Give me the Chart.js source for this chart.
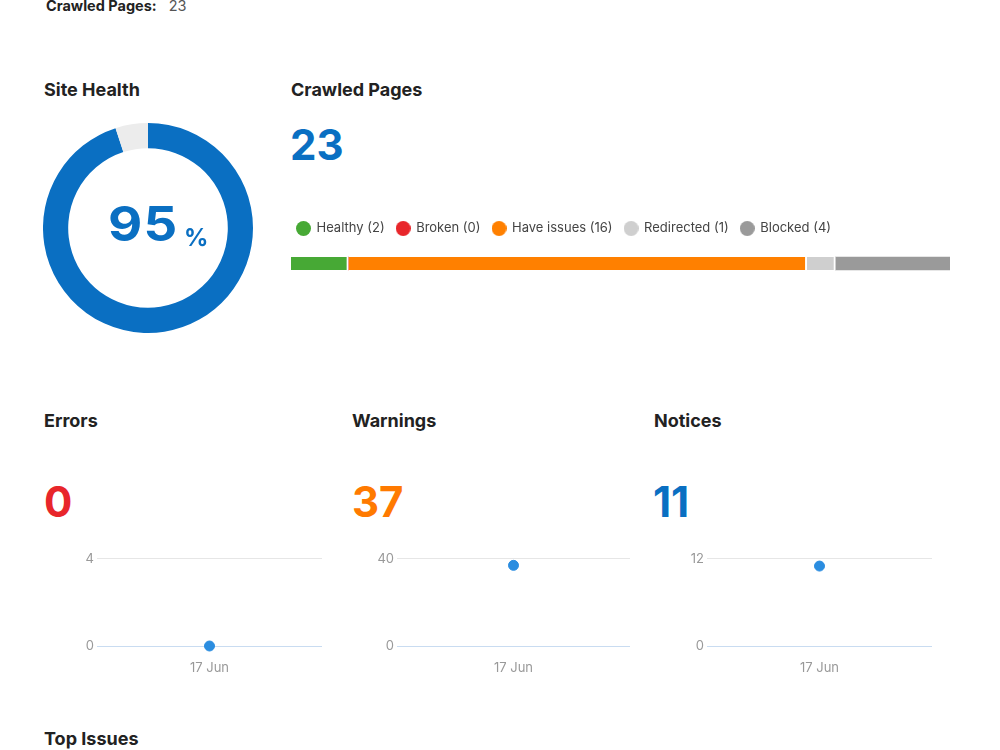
<!DOCTYPE html>
<html>
<head>
<meta charset="utf-8">
<script src="https://cdn.jsdelivr.net/npm/chart.js@4.4.1/dist/chart.umd.min.js"></script>
<style>
  body { margin: 0; background: #fff; font-family: Inter, "Open Sans", sans-serif; color: #222; }
  #page { position: relative; width: 1000px; height: 750px; overflow: hidden; }
  .abs { position: absolute; }
  .titulo { font-size: 18px; font-weight: 700; color: #222; white-space: nowrap; }
  .numero { font-size: 42px; font-weight: 700; line-height: 1; }
  canvas { display: block; }
</style>
</head>
<body>
<div id="page">
  <div class="abs" style="left:46px; top:-3px; font-size:14.5px; white-space:nowrap;">
    <b>Crawled Pages:</b><span style="color:#555; margin-left:12px;">23</span>
  </div>

  <div class="abs titulo" style="left:44px; top:79px;">Site Health</div>
  <div class="abs" style="left:43px; top:123px; width:210px; height:210px;">
    <canvas id="chartHealth" width="210" height="210"></canvas>
  </div>
  <div class="abs" style="left:108px; top:200px; color:#0a6fc2; font-weight:700; white-space:nowrap; line-height:1; font-size:48px; letter-spacing:1px; transform:scaleX(1.1); transform-origin:left top;">95</div>
  <div class="abs" style="left:184px; top:226px; color:#0a6fc2; font-weight:700; line-height:1; font-size:24px;">%</div>

  <div class="abs titulo" style="left:291px; top:79px;">Crawled Pages</div>
  <div class="abs numero" style="left:290px; top:124px; color:#0a6fc2;">23</div>
  <div class="abs" style="left:277px; top:210px; width:673px; height:72px;">
    <canvas id="chartPages" width="673" height="72"></canvas>
  </div>

  <div class="abs titulo" style="left:44px; top:410px;">Errors</div>
  <div class="abs numero" style="left:44px; top:481px; color:#e8262b;">0</div>
  <div class="abs" style="left:57px; top:548px; width:265px; height:128px;">
    <canvas id="chartErrors" width="265" height="128"></canvas>
  </div>

  <div class="abs titulo" style="left:352px; top:410px;">Warnings</div>
  <div class="abs numero" style="left:352px; top:481px; color:#ff7a00;">37</div>
  <div class="abs" style="left:357px; top:548px; width:273px; height:128px;">
    <canvas id="chartWarnings" width="273" height="128"></canvas>
  </div>

  <div class="abs titulo" style="left:654px; top:410px;">Notices</div>
  <div class="abs numero" style="left:653px; top:481px; color:#0a6fc2;">11</div>
  <div class="abs" style="left:667px; top:548px; width:265px; height:128px;">
    <canvas id="chartNotices" width="265" height="128"></canvas>
  </div>

  <div class="abs titulo" style="left:44px; top:728px;">Top Issues</div>
</div>

<script>
// datos
let healthLabels = ['Healthy', 'Rest'];
let healthValues = [95, 5];

let pageStatus = ['Healthy', 'Broken', 'Have issues', 'Redirected', 'Blocked'];
let pageCounts = [2, 0, 16, 1, 4];
let pageColors = ['#47a935', '#e8262b', '#ff8000', '#cfcfcf', '#9a9a9a'];

let dateLabels = ['17 Jun'];
let errorValues = [0];
let warningValues = [37];
let noticeValues = [11];
let errorTicks = [0, 4];
let warningTicks = [0, 40];
let noticeTicks = [0, 12];

Chart.defaults.font.family = 'Inter, "Open Sans", sans-serif';
Chart.defaults.animation = false;

/* Donut de salud */

function start_chart_health() {
  new Chart(document.getElementById('chartHealth'), {
    type: 'doughnut',
    data: {
      labels: healthLabels,
      datasets: [{
        data: healthValues,
        backgroundColor: ['#0a6fc2', '#ececec'],
        borderWidth: 0
      }]
    },
    options: {
      responsive: false,
      cutout: '76%',
      plugins: { legend: { display: false }, tooltip: { enabled: false } }
    }
  });
}

/* Barra de paginas */

// circulito para la leyenda
function make_dot(color) {
  let c = document.createElement('canvas');
  c.width = 15;
  c.height = 15;
  let g = c.getContext('2d');
  g.fillStyle = color;
  g.beginPath();
  g.arc(7.5, 7.5, 7.5, 0, Math.PI * 2);
  g.fill();
  return c;
}

// mover la leyenda hacia la izquierda
const legendShift = {
  id: 'legendShift',
  afterLayout(chart) {
    chart.legend.left -= 6;
    chart.legend.right -= 6;
  }
};

function start_chart_pages() {
  let total = pageCounts.reduce((a, b) => a + b, 0);
  let last = pageStatus.length - 1;
  let datasets = pageStatus.map((name, i) => ({
    label: name + ' (' + pageCounts[i] + ')',
    data: [pageCounts[i]],
    backgroundColor: pageColors[i],
    borderColor: '#ffffff',
    borderWidth: { left: 0, right: i === last ? 0 : 2, top: 0, bottom: 0 },
    borderSkipped: false,
    barThickness: 13
  }));
  new Chart(document.getElementById('chartPages'), {
    type: 'bar',
    data: { labels: ['Pages'], datasets: datasets },
    plugins: [legendShift],
    options: {
      responsive: false,
      indexAxis: 'y',
      layout: { padding: { left: 14, right: 0 } },
      scales: {
        x: { stacked: true, min: 0, max: total, display: false },
        y: { stacked: true, display: false }
      },
      plugins: {
        tooltip: { enabled: false },
        legend: {
          position: 'top',
          align: 'start',
          labels: {
            usePointStyle: true,
            boxWidth: 13,
            boxHeight: 13,
            padding: 12,
            color: '#444',
            font: { size: 13 },
            generateLabels: function (chart) {
              return chart.data.datasets.map((ds, i) => ({
                text: ds.label,
                fillStyle: ds.backgroundColor,
                strokeStyle: ds.backgroundColor,
                lineWidth: 0,
                pointStyle: make_dot(ds.backgroundColor),
                fontColor: '#444',
                datasetIndex: i
              }));
            }
          }
        }
      }
    }
  });
}

/* Graficos chicos */

function start_chart_small(id, values, ticks) {
  let maxVal = ticks[ticks.length - 1];
  new Chart(document.getElementById(id), {
    type: 'line',
    data: {
      labels: dateLabels,
      datasets: [{
        data: values,
        borderColor: '#2b8de0',
        backgroundColor: '#2b8de0',
        pointRadius: 5,
        showLine: false,
        clip: false
      }]
    },
    options: {
      responsive: false,
      layout: { autoPadding: false, padding: { top: 10, right: 0, bottom: 0, left: 0 } },
      scales: {
        x: {
          offset: true,
          grid: { display: false },
          border: { display: false },
          ticks: { color: '#999', font: { size: 13 }, padding: 6 },
          afterFit: function (scale) { scale.height = 30; }
        },
        y: {
          min: 0,
          max: maxVal,
          afterBuildTicks: function (scale) { scale.ticks = ticks.map(v => ({ value: v })); },
          grid: {
            drawTicks: false,
            color: c => (c.tick && c.tick.value === 0) ? '#c9dcf1' : '#e6e6e6'
          },
          border: { display: false },
          ticks: { color: '#999', font: { size: 13 }, padding: 3 },
          afterFit: function (scale) { scale.width = 40; }
        }
      },
      plugins: { legend: { display: false }, tooltip: { enabled: false } }
    }
  });
}

function load_document() {
  start_chart_health();
  start_chart_pages();
  start_chart_small('chartErrors', errorValues, errorTicks);
  start_chart_small('chartWarnings', warningValues, warningTicks);
  start_chart_small('chartNotices', noticeValues, noticeTicks);
}

window.addEventListener('load', load_document);
</script>
</body>
</html>
